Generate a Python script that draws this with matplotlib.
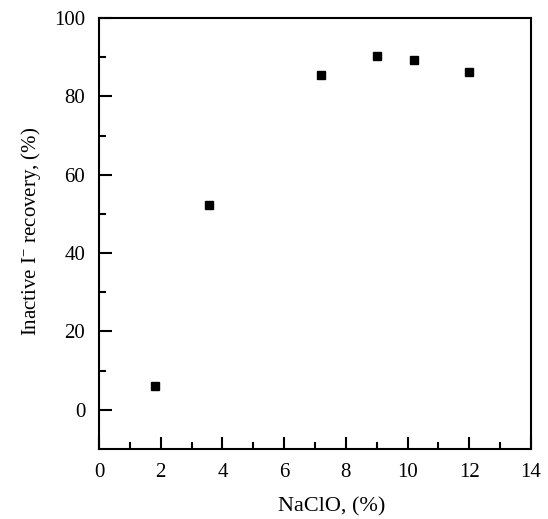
# Inactive I- recovery versus NaClO concentration

import matplotlib
matplotlib.use('Agg')
from matplotlib import pyplot as plt

plt.rcParams['font.family'] = ['Liberation Serif', 'DejaVu Serif']
plt.rcParams['mathtext.fontset'] = 'custom'
plt.rcParams['mathtext.rm'] = 'Liberation Serif'
plt.rcParams['mathtext.it'] = 'Liberation Serif:italic'

# Data

naclo = [1.8, 3.56, 7.2, 9.0, 10.2, 12.0]
recovery = [6.2, 52.2, 85.4, 90.2, 89.4, 86.1]

x_ticks = [0, 2, 4, 6, 8, 10, 12, 14]
y_ticks = [0, 20, 40, 60, 80, 100]

fig = plt.figure(figsize=(5.48, 5.19), dpi=100)
ax = fig.add_axes([0.1807, 0.1349, 0.7883, 0.8304])

ax.plot(naclo, recovery, 's', color='black', markersize=6, linestyle='none')

ax.set_xlim(0, 14)
ax.set_ylim(-10, 100)
ax.set_xticks(x_ticks)
ax.set_yticks(y_ticks)
ax.set_xticks([1, 3, 5, 7, 9, 11, 13], minor=True)
ax.set_yticks([10, 30, 50, 70, 90], minor=True)

ax.tick_params(which='both', direction='in', top=False, right=False, width=1.5,
               labelsize=15)
ax.tick_params(which='major', length=9, pad=10)
ax.tick_params(which='minor', length=5)

for spine in ax.spines.values():
    spine.set_linewidth(1.5)

ax.set_xlabel('NaClO, (%)', fontsize=16)
ax.xaxis.set_label_coords(0.539, -0.112)
ax.set_ylabel(r'Inactive I$^{-}$ recovery, (%)', fontsize=15)
ax.yaxis.set_label_coords(-0.13, 0.505)

plt.savefig('out.png', dpi=100)
